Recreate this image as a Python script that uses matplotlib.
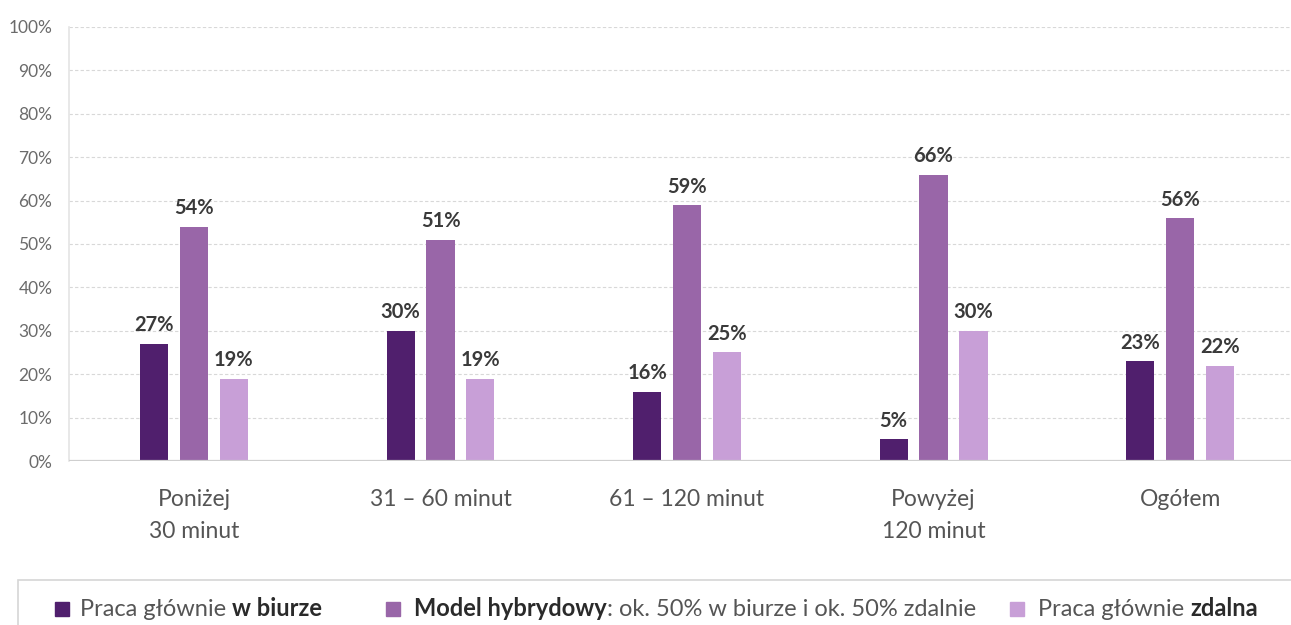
import numpy as np
import matplotlib.pyplot as plt
from matplotlib.patches import Rectangle

plt.rcParams['font.family'] = ['Lato', 'DejaVu Sans']

# Dane: udział trybów pracy wg czasu dojazdu
kategorie = ['Poniżej\n30 minut', '31 – 60 minut', '61 – 120 minut', 'Powyżej\n120 minut', 'Ogółem']
w_biurze = [27, 30, 16, 5, 23]
hybrydowy = [54, 51, 59, 66, 56]
zdalna = [19, 19, 25, 30, 22]

kolory = ['#501f6d', '#9966a8', '#c89fd7']

fig = plt.figure(figsize=(12.91, 6.25), dpi=100)
ax = fig.add_axes([69/1291, 164/625, 1 - 69/1291, 434/625])

x = np.arange(len(kategorie))
szer = 0.114
przes = 0.162
for i, (seria, kol) in enumerate(zip([w_biurze, hybrydowy, zdalna], kolory)):
    bars = ax.bar(x + (i - 1) * przes, seria, width=szer, color=kol, zorder=3)
    for b, v in zip(bars, seria):
        ax.annotate(f'{v}%', (b.get_x() + b.get_width() / 2, v),
                    xytext=(0, 6), textcoords='offset points',
                    ha='center', va='bottom', fontsize=14.5, fontweight='bold',
                    color='#3a3a3a')

ax.set_xlim(-0.507, 4.45)
ax.set_ylim(0, 100)
ax.set_yticks(range(0, 101, 10))
ax.set_yticklabels([f'{t}%' for t in range(0, 101, 10)], fontsize=12.5, color='#6b6b6b')
ax.set_xticks(x)
ax.set_xticklabels(kategorie, fontsize=16.5, color='#555555', linespacing=1.65)
ax.tick_params(axis='x', length=0, pad=20)
ax.tick_params(axis='y', length=0, pad=12)

ax.yaxis.grid(True, linestyle=(0, (3, 2)), color='#d8d8d8', linewidth=0.8, zorder=0)
ax.axhline(0, color='#cfcfcf', linewidth=1.6, zorder=4)
for s in ['top', 'right', 'bottom']:
    ax.spines[s].set_visible(False)
ax.spines['left'].set_color('#e4e4e4')
ax.spines['left'].set_linewidth(1.2)

# Legenda w ramce na dole
W, H = 1291, 625
fig.patches.append(Rectangle((18 / W, -0.1), 1.1, (625 - 580) / H + 0.1,
                             transform=fig.transFigure, fill=False,
                             edgecolor='#d6d6d6', linewidth=1.2))

renderer = fig.canvas.get_renderer()

def tekst(kawalki, x0, y0):
    xp = x0
    for t, waga in kawalki:
        txt = fig.text(xp / W, y0 / H, t, fontsize=17, fontweight=waga,
                       color='#2a2a2a' if waga == 'bold' else '#555555',
                       va='center', ha='left')
        bb = txt.get_window_extent(renderer=renderer)
        xp += bb.width

y_leg = 625 - 609
pozycje = [(55, 80), (386, 414), (1010, 1038)]
opisy = [
    [('Praca głównie ', 'normal'), ('w biurze', 'bold')],
    [('Model hybrydowy', 'bold'), (': ok. 50% w biurze i ok. 50% zdalnie', 'normal')],
    [('Praca głównie ', 'normal'), ('zdalna', 'bold')],
]
for (xs, xt), opis, kol in zip(pozycje, opisy, kolory):
    fig.patches.append(Rectangle((xs / W, (y_leg - 7) / H), 14 / W, 14 / H,
                                 transform=fig.transFigure, color=kol))
    tekst(opis, xt, y_leg)

fig.savefig('out.png', dpi=100)
